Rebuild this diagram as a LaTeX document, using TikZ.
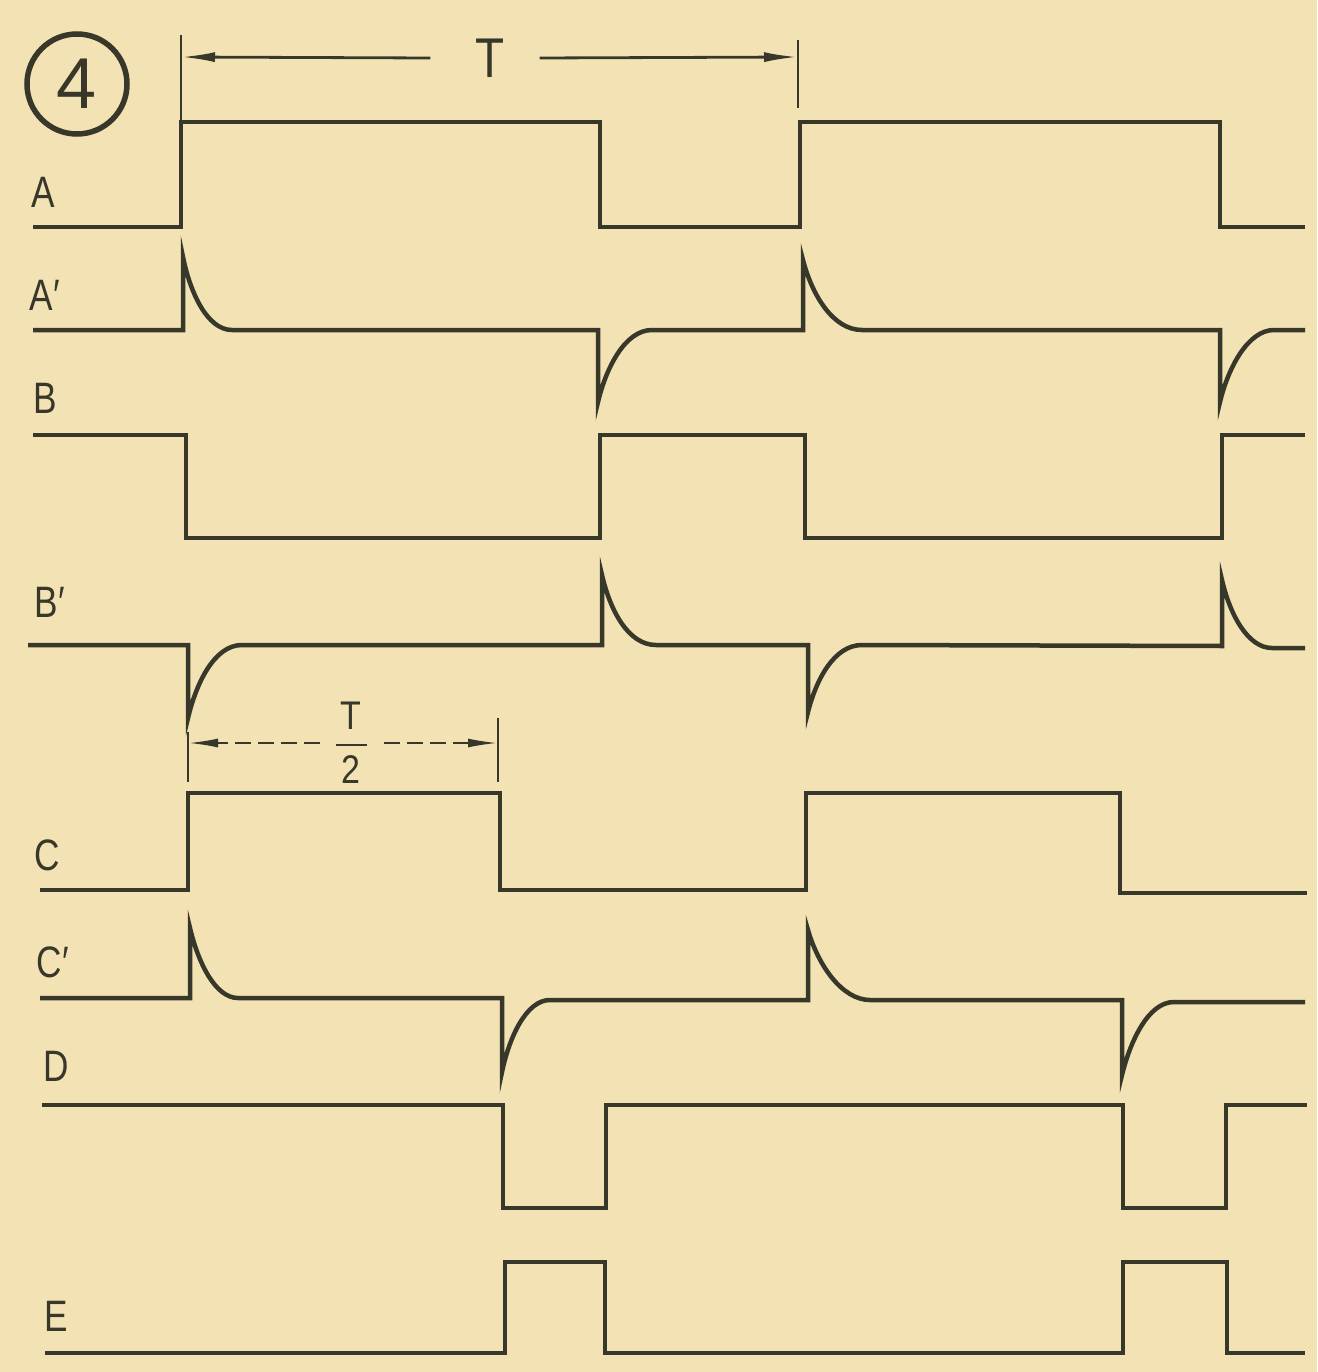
\documentclass[tikz,border=0pt]{standalone}
\usepackage{fontspec}
\setmainfont{Liberation Sans}
\usetikzlibrary{arrows.meta}
\definecolor{paper}{HTML}{F3E2B4}
\definecolor{ink}{HTML}{38382A}
\begin{document}
\begin{tikzpicture}[x=1pt,y=-1pt,
  sig/.style={line width=4.5pt,draw=ink},
  dimline/.style={line width=2.8pt,draw=ink},
  halfline/.style={line width=2.2pt,draw=ink,dash pattern=on 16pt off 7pt},
  tickline/.style={line width=2.2pt,draw=ink},
  lbl/.style={font=\fontsize{44}{48}\selectfont,text=ink,inner sep=0pt},
  big/.style={font=\fontsize{56}{60}\selectfont,text=ink,inner sep=0pt},
  small/.style={font=\fontsize{40}{44}\selectfont,text=ink,inner sep=0pt}]
\fill[paper] (0,0) rectangle (1317,1372);
\useasboundingbox (0,0) rectangle (1317,1372);

% circled number
\node[circle,draw=ink,line width=5.5pt,minimum size=100pt,inner sep=0pt,
      font=\fontsize{72}{76}\selectfont,text=ink] (num) at (77,84) {4};

% labels
\node[lbl] (lA)  at (43,192)  {\scalebox{0.8}[1]{A}};
\node[lbl] (lA2) at (45,295)  {\scalebox{0.8}[1]{A′}};
\node[lbl] (lB)  at (45,398)  {\scalebox{0.8}[1]{B}};
\node[lbl] (lB2) at (50,602)  {\scalebox{0.8}[1]{B′}};
\node[lbl] (lC)  at (47,855)  {\scalebox{0.8}[1]{C}};
\node[lbl] (lC2) at (53,962)  {\scalebox{0.8}[1]{C′}};
\node[lbl] (lD)  at (56,1066) {\scalebox{0.8}[1]{D}};
\node[lbl] (lE)  at (56,1316) {\scalebox{0.8}[1]{E}};

% period T dimension
\coordinate (tL) at (181,57);
\coordinate (tR) at (798,57);
\coordinate (tLtop) at (181,35);
\coordinate (tLbot) at (181,122);
\coordinate (tRtop) at (798,40);
\coordinate (tRbot) at (798,108);
\node[big] (T) at (490,58) {\scalebox{0.85}[1]{T}};
\draw[tickline] (tLtop) -- (tLbot);
\draw[tickline] (tRtop) -- (tRbot);
\draw[dimline,-{Latex[length=34pt,width=10pt]}] ([xshift=-45pt]T.west) -- (tL);
\draw[dimline,-{Latex[length=34pt,width=10pt]}] ([xshift=35pt]T.east) -- (tR);

% half period dimension
\coordinate (hL) at (188,743);
\coordinate (hR) at (498,743);
\node[small] (hT) at (351,716) {\scalebox{0.85}[1]{T}};
\node[small] (h2) at (351,770) {\scalebox{0.85}[1]{2}};
\coordinate (barL) at (336,745);
\coordinate (barR) at (367,745);
\draw[tickline] (barL) -- (barR);
\draw[tickline] (188,732) -- (188,782);
\draw[tickline] (498,718) -- (498,782);
\draw[halfline,-{Latex[length=30pt,width=9pt]}] (320,743) -- (hL);
\draw[halfline,-{Latex[length=30pt,width=9pt]}] (384,743) -- (hR);

% A
\draw[sig] (33,227) -- (181,227) -- (181,122) -- (600,122) -- (600,227)
  -- (800,227) -- (800,122) -- (1220,122) -- (1220,227) -- (1305,227);
% A'
\draw[sig] (33,330) -- (183,330) -- (183,257)
  .. controls (190,292) and (207,330) .. (232,330) -- (598,330) -- (598,402)
  .. controls (606,368) and (625,330) .. (652,330) -- (803,330) -- (803,260)
  .. controls (812,295) and (833,330) .. (862,330) -- (1220,330) -- (1220,402)
  .. controls (1228,368) and (1248,330) .. (1274,330) -- (1305,330);
% B
\draw[sig] (33,435) -- (186,435) -- (186,538) -- (600,538) -- (600,435)
  -- (805,435) -- (805,538) -- (1222,538) -- (1222,435) -- (1305,435);
% B'
\draw[sig] (28,645) -- (188,645) -- (188,718)
  .. controls (196,684) and (214,645) .. (242,645) -- (602,645) -- (602,575)
  .. controls (610,610) and (628,645) .. (656,645) -- (808,645) -- (808,712)
  .. controls (816,680) and (834,645) .. (862,645) -- (1222,646) -- (1222,580)
  .. controls (1230,615) and (1248,648) .. (1272,648) -- (1305,648);
% C
\draw[sig] (40,890) -- (188,890) -- (188,793) -- (500,793) -- (500,890)
  -- (806,890) -- (806,793) -- (1120,793) -- (1120,893) -- (1307,893);
% C'
\draw[sig] (40,998) -- (190,998) -- (190,928)
  .. controls (198,962) and (215,998) .. (238,998) -- (502,998) -- (502,1072)
  .. controls (509,1038) and (526,1000) .. (550,1000) -- (808,1000) -- (808,930)
  .. controls (818,965) and (842,1000) .. (870,1000) -- (1122,1000) -- (1122,1075)
  .. controls (1130,1042) and (1148,1002) .. (1174,1002) -- (1305,1002);
% D
\draw[sig] (42,1105) -- (503,1105) -- (503,1208) -- (606,1208) -- (606,1105)
  -- (1123,1105) -- (1123,1208) -- (1226,1208) -- (1226,1105) -- (1307,1105);
% E
\draw[sig] (45,1353) -- (505,1353) -- (505,1262) -- (605,1262) -- (605,1353)
  -- (1123,1353) -- (1123,1262) -- (1227,1262) -- (1227,1353) -- (1305,1353);
\end{tikzpicture}
\end{document}
